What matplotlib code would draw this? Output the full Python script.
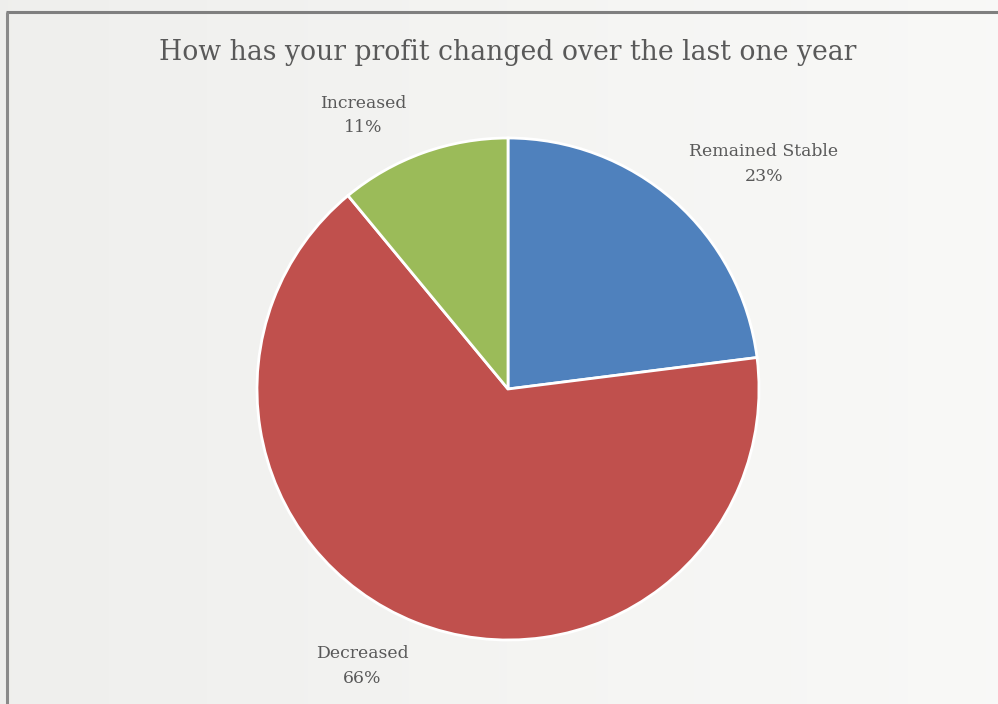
import matplotlib
matplotlib.use("Agg")
import matplotlib.pyplot as plt
import numpy as np

categories = ["Remained Stable", "Decreased", "Increased"]
shares = [23, 66, 11]
colors = ["#4f81bd", "#c0504d", "#9bbb59"]
title = "How has your profit changed over the last one year"

# label anchor positions in pie-radius units
label_pos = {
    "Remained Stable": (1.02, 0.895),
    "Decreased": (-0.58, -1.105),
    "Increased": (-0.575, 1.09),
}

W, H = 998, 704
fig = plt.figure(figsize=(W / 100, H / 100), dpi=100)

# soft light background with a gentle left-to-right brightening
bg = fig.add_axes([0, 0, 1, 1], zorder=-10)
grad = np.linspace(0.0, 1.0, 256)[None, :]
c0 = np.array([0.937, 0.937, 0.929])
c1 = np.array([0.976, 0.976, 0.969])
img = c0[None, None, :] * (1 - grad[..., None]) + c1[None, None, :] * grad[..., None]
bg.imshow(np.repeat(img, 2, axis=0), aspect="auto", extent=[0, 1, 0, 1])
bg.set_xlim(0, 1)
bg.set_ylim(0, 1)
bg.axis("off")
# frame lines along the top and left
bg.plot([6 / W, 1.0], [1 - 12 / H, 1 - 12 / H], color="#7f7f7f", lw=2.2, solid_capstyle="butt")
bg.plot([7 / W, 7 / W], [0, 1 - 12 / H], color="#8a8a8a", lw=2.2, solid_capstyle="butt")

cx, cy, r = 508, 389, 251
ax = fig.add_axes([(cx - r) / W, (H - cy - r) / H, 2 * r / W, 2 * r / H])
ax.pie(shares, colors=colors, startangle=90, counterclock=False, radius=1.0,
       wedgeprops=dict(edgecolor="white", linewidth=2.0))
ax.set_xlim(-1, 1)
ax.set_ylim(-1, 1)
ax.set_aspect("equal")
ax.axis("off")

font = "DejaVu Serif"
for cat, val in zip(categories, shares):
    x, y = label_pos[cat]
    ax.text(x, y, f"{cat}\n{val}%", ha="center", va="center", fontsize=12.4,
            family=font, color="#595959", linespacing=1.6, clip_on=False)

fig.text(508 / W, 1 - 52 / H, title, ha="center", va="center", fontsize=19.2,
         family=font, color="#595959")

fig.savefig("out.png", dpi=100)
